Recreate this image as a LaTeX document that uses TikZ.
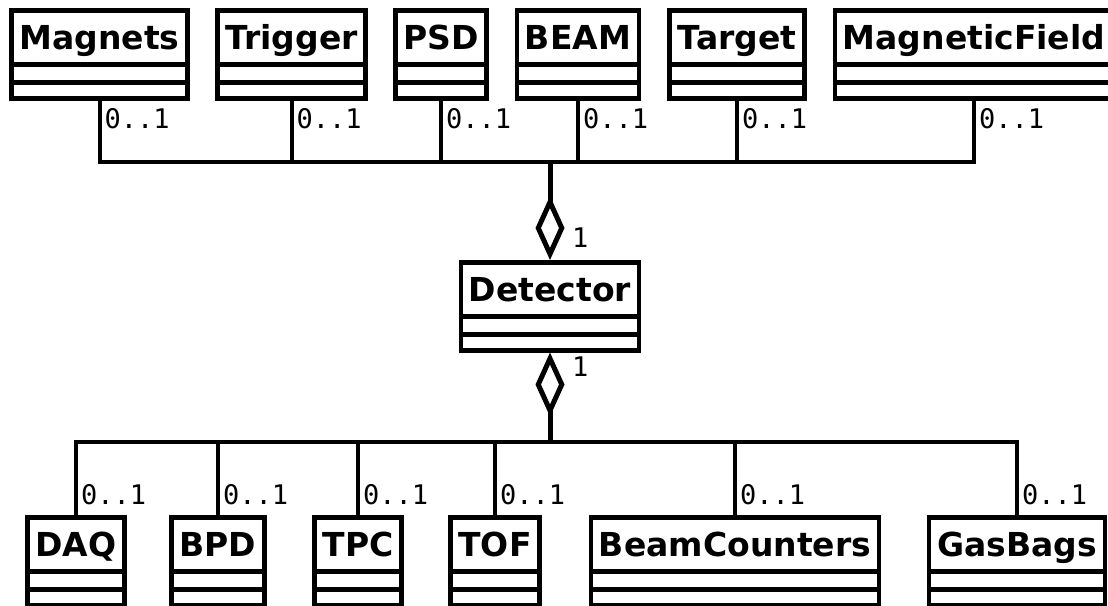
\documentclass[tikz,border=0pt]{standalone}
\usepackage{fontspec}
\setmainfont{DejaVu Sans}
\setmonofont{DejaVu Sans Mono}
\usetikzlibrary{arrows.meta}
\tikzset{
  umlclass/.style={draw, line width=4.5pt, fill=white, inner xsep=8pt, inner ysep=0pt,
    text height=39pt, text depth=49pt, font=\bfseries\fontsize{33}{36}\selectfont,
    path picture={\draw[line width=4.5pt]
      ([yshift=34pt]path picture bounding box.south west) -- ([yshift=34pt]path picture bounding box.south east)
      ([yshift=16pt]path picture bounding box.south west) -- ([yshift=16pt]path picture bounding box.south east);}},
  conn/.style={line width=4pt},
  aggr/.style={line width=5pt, {Diamond[open, length=64pt, width=29pt]}-},
  mult/.style={font=\ttfamily\fontsize{27}{29}\selectfont, inner sep=2pt},
}

\begin{document}
\begin{tikzpicture}[x=1pt, y=-1pt]
    \useasboundingbox (0,0) rectangle (1108,605);

    % --- Top row ---
    \node[umlclass, anchor=north] (magnets)  at (99.5,8) {Magnets};
    \node[umlclass, anchor=north] (trigger)  at (291.5,8) {Trigger};
    \node[umlclass, anchor=north] (psd)      at (441,8) {PSD};
    \node[umlclass, anchor=north] (beam)     at (578,8) {BEAM};
    \node[umlclass, anchor=north] (target)   at (737,8) {Target};
    \node[umlclass, anchor=north] (magfield) at (974,8) {MagneticField};

    % --- Centre ---
    \node[umlclass, anchor=north] (detector) at (550,260) {Detector};

    % --- Bottom row ---
    \node[umlclass, anchor=north] (daq)     at (76,515) {DAQ};
    \node[umlclass, anchor=north] (bpd)     at (218,515) {BPD};
    \node[umlclass, anchor=north] (tpc)     at (358,515) {TPC};
    \node[umlclass, anchor=north] (tof)     at (495,515) {TOF};
    \node[umlclass, anchor=north] (beamcnt) at (735,515) {BeamCounters};
    \node[umlclass, anchor=north] (gasbags) at (1017,515) {GasBags};

    \coordinate (topbus) at (550,162);
    \coordinate (botbus) at (550,442);

    % Aggregations
    \draw[aggr] (detector.north) -- (topbus);
    \draw[aggr] (detector.south) -- (botbus);
    \node[mult, anchor=south west] (det-up) at ([xshift=20pt, yshift=10pt]detector.north) {1};
    \node[mult, anchor=north west] (det-dn) at ([xshift=20pt, yshift=-2pt]detector.south) {1};

    % Parts above
    \foreach \cls in {magnets,trigger,psd,beam,target,magfield} {
        \draw[conn] (\cls.south) |- (topbus);
        \node[mult, anchor=north west] (\cls-m) at ([xshift=3pt, yshift=-6pt]\cls.south) {0..1};
    }
    % Parts below
    \foreach \cls in {daq,bpd,tpc,tof,beamcnt,gasbags} {
        \draw[conn] (\cls.north) |- (botbus);
        \node[mult, anchor=south west] (\cls-m) at ([xshift=3pt, yshift=8pt]\cls.north) {0..1};
    }
\end{tikzpicture}
\end{document}
